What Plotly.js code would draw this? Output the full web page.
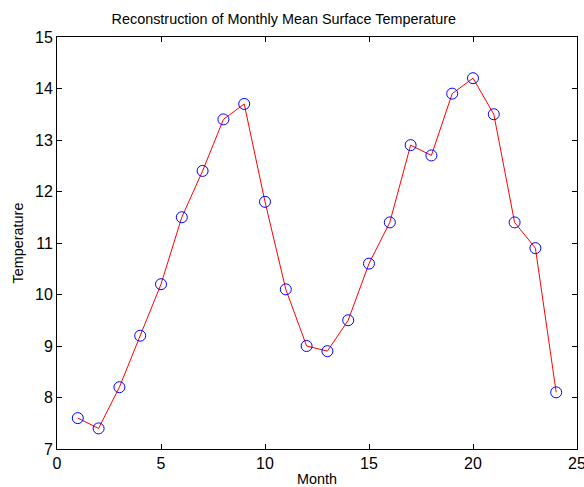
<!DOCTYPE html>
<html>
<head>
<meta charset="utf-8">
<script src="https://cdn.plot.ly/plotly-3.0.1.min.js"></script>
<style>html,body{margin:0;padding:0;background:#fff;}#chart{width:584px;height:487px;}</style>
</head>
<body>
<div id="chart"></div>
<script>
const months = [1,2,3,4,5,6,7,8,9,10,11,12,13,14,15,16,17,18,19,20,21,22,23,24];
const temperature = [7.6,7.4,8.2,9.2,10.2,11.5,12.4,13.4,13.7,11.8,10.1,9.0,8.9,9.5,10.6,11.4,12.9,12.7,13.9,14.2,13.5,11.4,10.9,8.1];
const xTicks = [0,5,10,15,20,25];
const yTicks = [7,8,9,10,11,12,13,14,15];

const FONT = 'Liberation Sans, Arial, sans-serif';
const traces = [
  {x: months, y: temperature, mode: 'lines', type: 'scatter',
   line: {color: '#ff0000', width: 1}, hoverinfo: 'skip'},
  {x: months, y: temperature, mode: 'markers', type: 'scatter',
   marker: {symbol: 'circle-open', color: '#0000ff', size: 11, line: {width: 1, color: '#0000ff'}}}
];
const axisCommon = {showline: true, mirror: 'ticks', linecolor: '#000', linewidth: 1,
  ticks: 'inside', ticklen: 5, tickcolor: '#000', showgrid: false, zeroline: false,
  ticklabeloverflow: 'allow',
  tickfont: {family: FONT, size: 16, color: '#000'}};
const layout = {
  width: 584, height: 487,
  margin: {l: 57, r: 7, t: 37, b: 38},
  showlegend: false,
  paper_bgcolor: '#fff', plot_bgcolor: '#fff',
  title: {text: 'Reconstruction of Monthly Mean Surface Temperature',
          font: {family: FONT, size: 14.4, color: '#000'},
          x: 0.486, xanchor: 'center', y: 0.972, yanchor: 'top'},
  xaxis: Object.assign({}, axisCommon, {range: [0, 25], tickvals: xTicks, ticktext: xTicks.map(String),
    title: {text: 'Month', standoff: 4, font: {family: FONT, size: 14.4, color: '#000'}}}),
  yaxis: Object.assign({}, axisCommon, {range: [7, 15], tickvals: yTicks, ticktext: yTicks.map(String),
    title: {text: 'Temperature', standoff: 7, font: {family: FONT, size: 14.4, color: '#000'}}})
};
Plotly.newPlot('chart', traces, layout, {displayModeBar: false, staticPlot: true});
</script>
</body>
</html>
